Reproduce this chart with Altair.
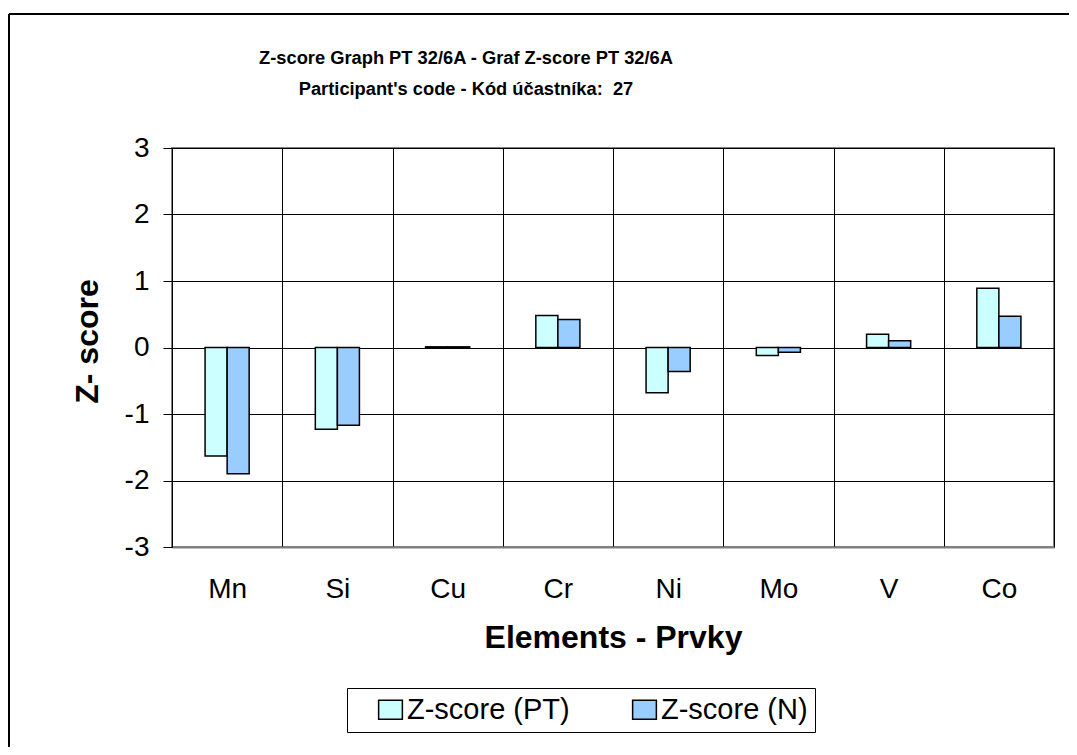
import altair as alt
import pandas as pd

elements = ["Mn", "Si", "Cu", "Cr", "Ni", "Mo", "V", "Co"]
z_pt = [-1.63, -1.23, 0.01, 0.48, -0.68, -0.12, 0.20, 0.89]
z_n = [-1.90, -1.17, 0.01, 0.42, -0.36, -0.07, 0.10, 0.47]
series = ["Z-score (PT)", "Z-score (N)"]
colors = ["#CCFFFF", "#99CCFF"]
y_ticks = [-3, -2, -1, 0, 1, 2, 3]
title_lines = [
    "Z-score Graph PT 32/6A - Graf Z-score PT 32/6A",
    "Participant's code - Kód účastníka:\u00a0 27",
]

rows = []
for i, e in enumerate(elements):
    rows.append({"element": e, "series": series[0], "z": z_pt[i]})
    rows.append({"element": e, "series": series[1], "z": z_n[i]})
df = pd.DataFrame(rows)

FONT = "Liberation Sans"
W, H = 882, 399
offset_domain = ["_gap_left"] + series + ["_gap_right"]

bars = alt.Chart(df).mark_bar(stroke="black", strokeWidth=1.5).encode(
    x=alt.X(
        "element:N",
        sort=elements,
        scale=alt.Scale(paddingInner=0, paddingOuter=0),
        axis=alt.Axis(
            title="Elements - Prvky",
            labelAngle=0,
            tickBand="extent",
            grid=True,
            ticks=False,
            tickSize=0,
            labelPadding=28,
            labelFontSize=28,
            labelFont=FONT,
            labelColor="black",
            domainColor="#808080",
            domainWidth=2,
            gridColor="black",
            gridWidth=1,
            titleFont=FONT,
            titleFontSize=32,
            titleFontWeight="bold",
            titleColor="black",
            titleBaseline="alphabetic",
            titleX=441,
            titleY=100,
        ),
    ),
    xOffset=alt.XOffset(
        "series:N",
        scale=alt.Scale(domain=offset_domain, paddingInner=0, paddingOuter=0.5),
    ),
    y=alt.Y(
        "z:Q",
        scale=alt.Scale(domain=[-3, 3], nice=False),
        axis=alt.Axis(
            values=y_ticks,
            labelExpr="'' + datum.value",
            title="Z- score",
            grid=True,
            gridColor="black",
            gridWidth=1,
            tickSize=9,
            tickColor="black",
            domainColor="black",
            domainWidth=1,
            labelPadding=14,
            labelFontSize=28,
            labelFont=FONT,
            labelColor="black",
            titleFont=FONT,
            titleFontSize=32,
            titleFontWeight="bold",
            titleColor="black",
            titleAngle=270,
            titleBaseline="alphabetic",
            titleAlign="center",
            titleX=-75,
            titleY=193,
        ),
    ),
    color=alt.Color(
        "series:N",
        sort=series,
        scale=alt.Scale(domain=series, range=colors),
        legend=alt.Legend(
            title=None,
            orient="none",
            legendX=175,
            legendY=540,
            direction="horizontal",
            columns=2,
            gridAlign="all",
            strokeColor="black",
            fillColor="white",
            padding=7,
            symbolType="M-1.25,-1L1.25,-1L1.25,1L-1.25,1Z",
            symbolSize=361,
            symbolStrokeColor="black",
            symbolStrokeWidth=1.5,
            symbolOffset=22,
            labelFont=FONT,
            labelFontSize=29,
            labelColor="black",
            labelOffset=2,
            labelLimit=400,
            columnPadding=38,
        ),
    ),
)

frame_df = pd.DataFrame({"k": [0]})
frame_left = alt.Chart(frame_df).mark_rule(color="black", strokeWidth=2).encode(
    x=alt.value(-163), y=alt.value(-134), y2=alt.value(H + 200)
)
frame_top = alt.Chart(frame_df).mark_rule(color="black", strokeWidth=2).encode(
    x=alt.value(-163), x2=alt.value(W + 15), y=alt.value(-134)
)

title_style = dict(font=FONT, fontSize=18.3, fontWeight="bold", color="black",
                   align="center", baseline="alphabetic")
title1 = alt.Chart(frame_df).mark_text(**title_style).encode(
    x=alt.value(294), y=alt.value(-84), text=alt.value(title_lines[0])
)
title2 = alt.Chart(frame_df).mark_text(**title_style).encode(
    x=alt.value(294), y=alt.value(-53), text=alt.value(title_lines[1])
)

chart = (
    alt.layer(bars, frame_left, frame_top, title1, title2)
    .properties(
        width=W,
        height=H,
        autosize=alt.AutoSizeParams(type="none"),
        padding={"left": 164, "top": 140, "right": 15, "bottom": 200},
        background="white",
    )
    .configure_view(stroke="#808080", strokeWidth=2)
)

chart.save("out.html", embed_options={"renderer": "svg", "actions": False})
